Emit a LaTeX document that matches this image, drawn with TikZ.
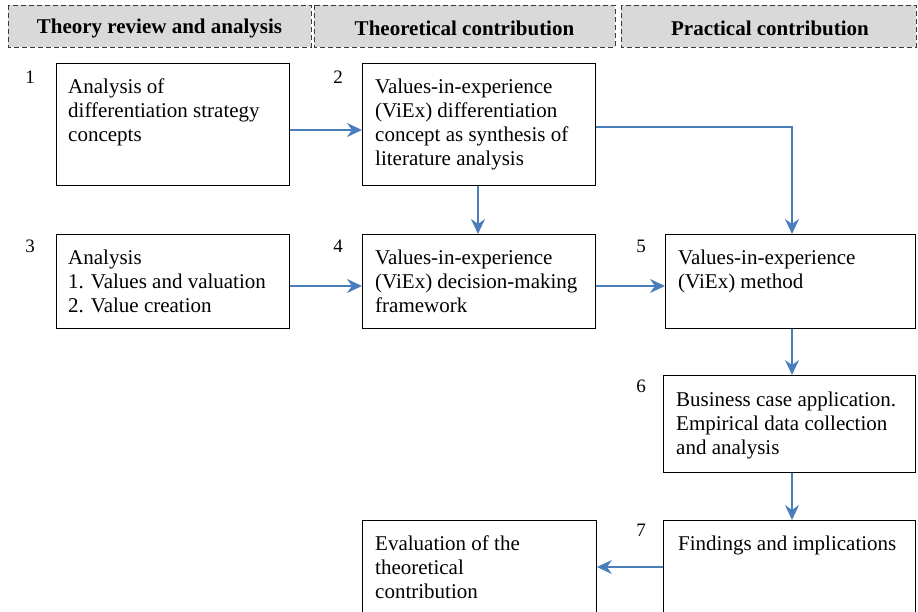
\documentclass[tikz,border=0pt]{standalone}
\usepackage{fontspec}
\setmainfont{Liberation Serif}
\usetikzlibrary{arrows.meta}
\definecolor{flowblue}{HTML}{4A7EBB}
\definecolor{headfill}{HTML}{D9D9D9}
\definecolor{headline}{HTML}{3A3A3A}
\begin{document}
\begin{tikzpicture}[x=1pt,y=-1pt,
  header/.style={draw=headline, dash pattern=on 5pt off 3pt, line width=1pt, fill=headfill},
  headtext/.style={font=\fontsize{21}{24}\selectfont\bfseries, inner sep=0pt},
  stagebox/.style={draw=black, line width=0.9pt},
  boxtext/.style={font=\fontsize{21}{24}\selectfont, align=left, anchor=north west, inner sep=0pt},
  numtext/.style={font=\fontsize{19}{22}\selectfont, inner sep=0pt},
  flow/.style={draw=flowblue, line width=1.4pt, -{Stealth[length=15pt,width=14pt,inset=5pt]}}
]
\clip (0,0) rectangle (918,611);
\fill[white] (0,0) rectangle (918,611);

% column headers
\draw[header] (8,5) rectangle (311,47);
\draw[header] (314,5) rectangle (615,47);
\draw[header] (621,5) rectangle (916,47);
\node[headtext] (h1) at (159.5,28) {Theory review and analysis};
\node[headtext] (h2) at (464.5,28) {Theoretical contribution};
\node[headtext] (h3) at (770,28) {Practical contribution};

% stage boxes
\node[stagebox, minimum width=233pt, minimum height=122pt, anchor=north west] (b1) at (56,63) {};
\node[stagebox, minimum width=233pt, minimum height=122pt, anchor=north west] (b2) at (362,63) {};
\node[stagebox, minimum width=233pt, minimum height=94pt, anchor=north west] (b3) at (56,234) {};
\node[stagebox, minimum width=233pt, minimum height=94pt, anchor=north west] (b4) at (362,234) {};
\node[stagebox, minimum width=250pt, minimum height=94pt, anchor=north west] (b5) at (665,234) {};
\node[stagebox, minimum width=252pt, minimum height=97pt, anchor=north west] (b6) at (663,375) {};
\node[stagebox, minimum width=252pt, minimum height=110pt, anchor=north west] (b7) at (663,520) {};
\node[stagebox, minimum width=234pt, minimum height=110pt, anchor=north west] (b8) at (362,520) {};

% box texts
\node[boxtext] (t1) at (68,79) {Analysis of\\differentiation strategy\\concepts};
\node[boxtext] (t2) at (375,79) {Values-in-experience\\(ViEx) differentiation\\concept as synthesis of\\literature analysis};
\node[boxtext] (t3) at (68,250) {Analysis\\1. Values and valuation\\2. Value creation};
\node[boxtext] (t4) at (375,250) {Values-in-experience\\(ViEx) decision-making\\framework};
\node[boxtext] (t5) at (678,250) {Values-in-experience\\(ViEx) method};
\node[boxtext] (t6) at (676,392) {Business case application.\\Empirical data collection\\and analysis};
\node[boxtext] (t7) at (678,536) {Findings and implications};
\node[boxtext] (t8) at (375,536) {Evaluation of the\\theoretical\\contribution};

% step numbers
\node[numtext] (n1) at (30,77) {1};
\node[numtext] (n2) at (338,77) {2};
\node[numtext] (n3) at (30,246) {3};
\node[numtext] (n4) at (338,246) {4};
\node[numtext] (n5) at (641,246) {5};
\node[numtext] (n6) at (641,386) {6};
\node[numtext] (n7) at (641,530) {7};

% connectors
\coordinate (bend) at (792,127);
\draw[flow] (b1.east |- 0,130) -- (b2.west |- 0,130);
\draw[flow] (b2.south -| 478,0) -- (b4.north -| 478,0);
\draw[flow] (b2.east |- bend) -- (bend) -- (b5.north -| bend);
\draw[flow] (b3.east |- 0,286) -- (b4.west |- 0,286);
\draw[flow] (b4.east |- 0,286) -- (b5.west |- 0,286);
\draw[flow] (b5.south -| 792,0) -- (b6.north -| 792,0);
\draw[flow] (b6.south -| 792,0) -- (b7.north -| 792,0);
\draw[flow] (b7.west |- 0,567) -- (b8.east |- 0,567);
\end{tikzpicture}
\end{document}
